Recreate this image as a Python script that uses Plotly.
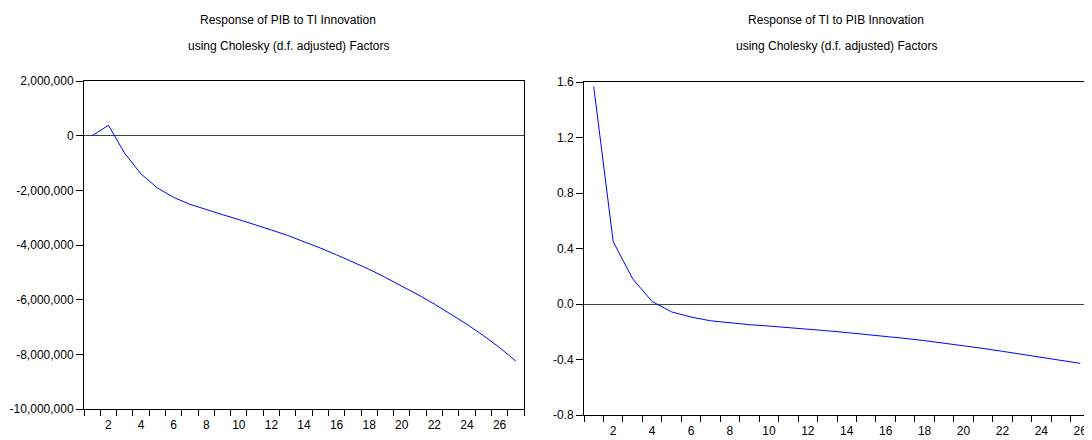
import plotly.graph_objects as go

# ---- data ----
periods_left = list(range(1, 28))
pib_response = [0, 380000, -650000, -1400000, -1910000, -2260000, -2510000, -2710000,
                -2890000, -3070000, -3250000, -3450000, -3650000, -3870000, -4110000,
                -4360000, -4620000, -4890000, -5190000, -5500000, -5820000, -6160000,
                -6520000, -6900000, -7310000, -7750000, -8250000]

periods_right = list(range(1, 27))
ti_response = [1.567, 0.449, 0.182, 0.018, -0.057, -0.094, -0.121, -0.137, -0.149,
               -0.159, -0.169, -0.180, -0.193, -0.206, -0.219, -0.233, -0.248, -0.264,
               -0.281, -0.300, -0.320, -0.341, -0.362, -0.384, -0.406, -0.428]

x_labels = [2, 4, 6, 8, 10, 12, 14, 16, 18, 20, 22, 24, 26]
left_yticks = [2000000, 0, -2000000, -4000000, -6000000, -8000000, -10000000]
left_ytext = ["2,000,000", "0", "-2,000,000", "-4,000,000", "-6,000,000", "-8,000,000", "-10,000,000"]
right_yticks = [1.6, 1.2, 0.8, 0.4, 0.0, -0.4, -0.8]
right_ytext = ["1.6", "1.2", "0.8", "0.4", "0.0", "-0.4", "-0.8"]

titles_left = ["Response of PIB to TI Innovation", "using Cholesky (d.f. adjusted) Factors"]
titles_right = ["Response of TI to PIB Innovation", "using Cholesky (d.f. adjusted) Factors"]

# page body has an 8px default margin; figure sized so it ends at the window edge
OFF = 8
W, H = 1092 - OFF, 440 - OFF
FONT = "Liberation Sans, Arial, sans-serif"


def px(x):
    return (x - OFF) / W


def py(y):
    return 1 - (y - OFF) / H


fig = go.Figure()
fig.add_trace(go.Scatter(x=periods_left, y=pib_response, mode="lines",
                         line=dict(color="#0000FF", width=1), xaxis="x", yaxis="y",
                         showlegend=False, hoverinfo="skip"))
fig.add_trace(go.Scatter(x=periods_right, y=ti_response, mode="lines",
                         line=dict(color="#0000FF", width=1), xaxis="x2", yaxis="y2",
                         showlegend=False, hoverinfo="skip"))


def xaxis_cfg(domain, n):
    return dict(
        domain=domain, range=[0.5, n + 0.5], tickmode="array", automargin=False,
        tickvals=[v for v in x_labels if v <= n], ticktext=[str(v) for v in x_labels if v <= n],
        ticks="outside", ticklen=5, tickcolor="rgba(0,0,0,0)",
        minor=dict(tickmode="array", tickvals=[i + 0.5 for i in range(0, n + 1)],
                   ticks="outside", ticklen=6, tickcolor="black", tickwidth=1, showgrid=False),
        showgrid=False, zeroline=False, showline=True, linecolor="black", linewidth=1,
        mirror=True, tickfont=dict(family=FONT, size=12, color="black"),
    )


def yaxis_cfg(domain, rng, vals, text):
    return dict(
        domain=domain, range=rng, tickmode="array", tickvals=vals, ticktext=text,
        automargin=False,
        ticks="outside", ticklen=7, tickcolor="black", showgrid=False,
        zeroline=True, zerolinecolor="#404040", zerolinewidth=1,
        showline=True, linecolor="black", linewidth=1, mirror=True,
        tickfont=dict(family=FONT, size=12, color="black"),
    )


annotations = []
for cx, lines in ((288, titles_left), (836, titles_right)):
    for ly, txt in zip((20, 46), lines):
        annotations.append(dict(text=txt, x=px(cx), y=py(ly), xref="paper", yref="paper",
                                xanchor="center", yanchor="middle", showarrow=False,
                                font=dict(family=FONT, size=12, color="black")))

fig.update_layout(
    template="none",
    width=W, height=H, margin=dict(l=0, r=0, t=0, b=0, pad=0, autoexpand=False),
    paper_bgcolor="white", plot_bgcolor="white",
    font=dict(family=FONT, size=12, color="black"),
    xaxis=dict(xaxis_cfg([px(84), px(524)], 27), anchor="y"),
    yaxis=dict(yaxis_cfg([py(409), py(81)], [-10000000, 2000000], left_yticks, left_ytext), anchor="x"),
    xaxis2=dict(xaxis_cfg([px(584), min(px(1090), 1.0)], 26), anchor="y2"),
    yaxis2=dict(yaxis_cfg([py(415), py(82)], [-0.8, 1.6], right_yticks, right_ytext), anchor="x2"),
    annotations=annotations,
)

fig.write_html("out.html")
